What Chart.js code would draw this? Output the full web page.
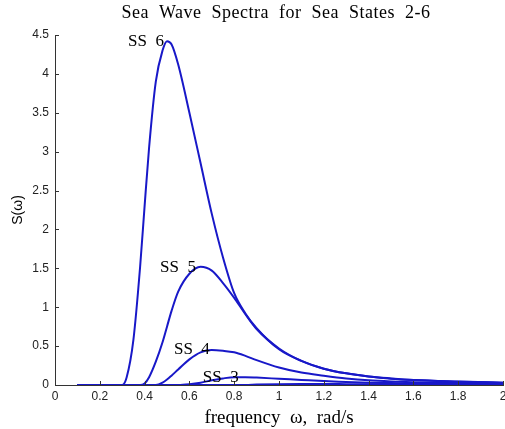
<!DOCTYPE html>
<html>
<head>
<meta charset="utf-8">
<script src="https://cdn.jsdelivr.net/npm/chart.js@4/dist/chart.umd.min.js"></script>
<style>
  html, body { margin: 0; padding: 0; background: #fff; }
  #wrap { width: 505px; height: 429px; }
</style>
</head>
<body>
<div id="wrap"><canvas id="chart"></canvas></div>
<script>
// frequency grid (rad/s) shared by all curves
const freq = [0.1, 0.2, 0.3, 0.32, 0.35, 0.38, 0.4, 0.42, 0.45, 0.48, 0.5, 0.52, 0.55, 0.6, 0.65, 0.7, 0.75, 0.8, 0.85, 0.9, 1.0, 1.1, 1.2, 1.3, 1.4, 1.5, 1.6, 1.8, 2.0];

// spectral density
const ss6 = [0, 0, 0, 0.1, 0.58, 1.52, 2.3, 3.05, 3.9, 4.3, 4.42, 4.38, 4.12, 3.5, 2.85, 2.2, 1.64, 1.18, 0.92, 0.73, 0.46, 0.31, 0.21, 0.15, 0.11, 0.085, 0.065, 0.045, 0.03];
const ss5 = [0, 0, 0, 0, 0, 0, 0.02, 0.1, 0.3, 0.55, 0.75, 0.95, 1.2, 1.43, 1.52, 1.47, 1.31, 1.12, 0.91, 0.72, 0.47, 0.31, 0.21, 0.15, 0.11, 0.08, 0.063, 0.043, 0.03];
const ss4 = [0, 0, 0, 0, 0, 0, 0, 0, 0, 0.03, 0.07, 0.12, 0.2, 0.33, 0.42, 0.45, 0.44, 0.42, 0.375, 0.32, 0.225, 0.16, 0.12, 0.085, 0.06, 0.045, 0.035, 0.025, 0.018];
const ss3 = [0, 0, 0, 0, 0, 0, 0, 0, 0, 0, 0, 0, 0, 0.01, 0.03, 0.06, 0.085, 0.1, 0.1, 0.095, 0.08, 0.065, 0.05, 0.04, 0.03, 0.025, 0.02, 0.014, 0.01];
const ss2 = [0, 0, 0, 0, 0, 0, 0, 0, 0, 0, 0, 0, 0, 0, 0, 0, 0, 0, 0, 0.005, 0.01, 0.012, 0.012, 0.011, 0.01, 0.009, 0.008, 0.006, 0.005];

const seriesNames = ["SS 2", "SS 3", "SS 4", "SS 5", "SS 6"];
const seriesValues = [ss2, ss3, ss4, ss5, ss6];

const xTicks = [0, 0.2, 0.4, 0.6, 0.8, 1, 1.2, 1.4, 1.6, 1.8, 2];
const yTicks = [0, 0.5, 1, 1.5, 2, 2.5, 3, 3.5, 4, 4.5];

// curve labels: text, anchor in data units (left edge, vertical middle)
const curveLabels = [
  { text: "SS  6", x: 0.326, y: 4.42 },
  { text: "SS  5", x: 0.469, y: 1.51 },
  { text: "SS  4", x: 0.531, y: 0.46 },
  { text: "SS  3", x: 0.66, y: 0.1 },
];

const blue = "#1818c8";
const serif = "'Liberation Serif', 'DejaVu Serif', serif";
const sans = "'Liberation Sans', Arial, sans-serif";

const datasets = seriesValues.map((vals, i) => ({
  label: seriesNames[i],
  data: freq.map((f, j) => ({ x: f, y: vals[j] })),
  borderColor: blue,
  borderWidth: 2,
  pointRadius: 0,
  fill: false,
  cubicInterpolationMode: "monotone",
}));

// inward tick marks, title and curve labels
const decorations = {
  id: "decorations",
  afterDraw(chart) {
    const { ctx, scales, chartArea } = chart;
    const xs = scales.x;
    const ys = scales.y;
    ctx.save();
    ctx.strokeStyle = "#333";
    ctx.lineWidth = 1;
    ctx.beginPath();
    xTicks.forEach((t) => {
      const px = Math.round(xs.getPixelForValue(t)) + 0.5;
      ctx.moveTo(px, chartArea.bottom);
      ctx.lineTo(px, chartArea.bottom - 4);
    });
    yTicks.forEach((t) => {
      const py = Math.round(ys.getPixelForValue(t)) + 0.5;
      ctx.moveTo(chartArea.left, py);
      ctx.lineTo(chartArea.left + 4, py);
    });
    ctx.stroke();

    ctx.fillStyle = "#000";
    ctx.font = "17px " + serif;
    ctx.textBaseline = "middle";
    ctx.textAlign = "left";
    curveLabels.forEach((l) => {
      ctx.fillText(l.text, xs.getPixelForValue(l.x), ys.getPixelForValue(l.y));
    });

    ctx.textAlign = "center";
    ctx.font = "18px " + serif;
    ctx.letterSpacing = "0.5px";
    ctx.fillText("Sea  Wave  Spectra  for  Sea  States  2-6", 276, 13);
    ctx.restore();
  },
};

new Chart(document.getElementById("chart"), {
  type: "line",
  data: { datasets },
  plugins: [decorations],
  options: {
    responsive: true,
    maintainAspectRatio: false,
    animation: false,
    layout: { padding: { top: 35, right: 2, left: 0, bottom: 0 } },
    plugins: {
      legend: { display: false },
      tooltip: { enabled: false },
      title: { display: false },
    },
    scales: {
      x: {
        type: "linear",
        min: 0,
        max: 2,
        afterBuildTicks: (scale) => {
          scale.ticks = xTicks.map((v) => ({ value: v }));
        },
        afterFit: (scale) => {
          scale.paddingRight = 0;
          scale.paddingLeft = 0;
          scale.height = 44;
        },
        grid: { display: false, drawTicks: false },
        border: { color: "#333", width: 1 },
        ticks: {
          color: "#222",
          padding: 4,
          maxRotation: 0,
          font: { family: sans, size: 12 },
          callback: (v) => String(v),
        },
        title: {
          display: true,
          text: "frequency  \u03c9,  rad/s",
          color: "#000",
          font: { family: serif, size: 19 },
          padding: { top: 0, bottom: 0 },
        },
      },
      y: {
        min: 0,
        max: 4.5,
        afterBuildTicks: (scale) => {
          scale.ticks = yTicks.map((v) => ({ value: v }));
        },
        afterFit: (scale) => {
          scale.width = 55;
          scale.paddingTop = 0;
          scale.paddingBottom = 0;
        },
        grid: { display: false, drawTicks: false },
        border: { color: "#333", width: 1 },
        ticks: {
          color: "#222",
          padding: 6,
          font: { family: sans, size: 12 },
          callback: (v) => String(v),
        },
        title: {
          display: true,
          text: "S(\u03c9)",
          color: "#000",
          font: { family: sans, size: 14 },
          padding: { top: 10, bottom: 0 },
        },
      },
    },
  },
});
</script>
</body>
</html>
